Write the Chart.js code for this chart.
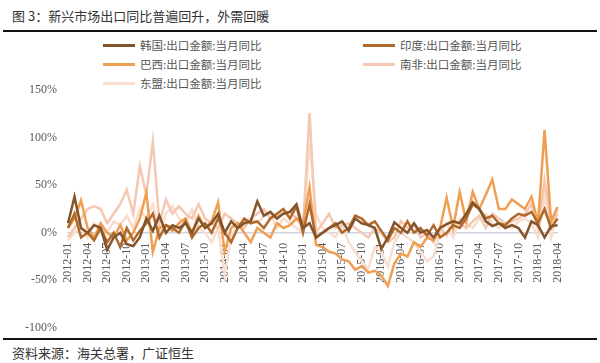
<!DOCTYPE html>
<html>
<head>
<meta charset="utf-8">
<script src="https://cdn.jsdelivr.net/npm/chart.js@4.4.1/dist/chart.umd.min.js"></script>
<style>
  body { margin: 0; width: 600px; height: 363px; background: #fff; position: relative; overflow: hidden; }
  .title { position: absolute; left: 12px; top: 6px; font: 13px "Noto Sans CJK SC"; color: #333; }
  .rule { position: absolute; left: 3px; width: 594px; background: #111; }
  .lg { position: absolute; font: 11.5px "Noto Sans CJK SC"; color: #555; white-space: nowrap; }
  .lg i { display: inline-block; width: 32px; height: 3px; vertical-align: middle; margin-right: 5px; position: relative; top: -1px; }
  .src { position: absolute; left: 12px; top: 343px; font: 13px "Noto Sans CJK SC"; color: #333; }
  #box { position: absolute; left: 22px; top: 80px; width: 552px; height: 258px; }
</style>
</head>
<body>
<div class="title">图 3：新兴市场出口同比普遍回升，外需回暖</div>
<div class="rule" style="top:30px;height:2px"></div>
<div id="legend"></div>
<div id="box"><canvas id="chart"></canvas></div>
<div class="rule" style="top:338px;height:2px"></div>
<div class="src">资料来源：海关总署，广证恒生</div>
<script>
var years = ["2012", "2013", "2014", "2015", "2016", "2017", "2018"];
var monthNames = ["01", "02", "03", "04", "05", "06", "07", "08", "09", "10", "11", "12"];
var months = [];
for (var y = 0; y < years.length; y++) {
    for (var m = 0; m < 12; m++) {
        if (years[y] === "2018" && m > 3) break;
        months.push(years[y] + "-" + monthNames[m]);
    }
}

var seriesNames = ["韩国:出口金额:当月同比", "印度:出口金额:当月同比", "巴西:出口金额:当月同比", "南非:出口金额:当月同比", "东盟:出口金额:当月同比"];
var seriesColors = ["#84542a", "#b0682b", "#ef9e52", "#f4c8b2", "#f9ddce"];

var korea = [10, 38, 5, 0, 8, 5, -18, -5, 0, -12, -14, -5,
    15, 2, 18, 0, 8, 5, 10, 0, 15, 5, 10, 20,
    0, 12, 5, 10, 12, 33, 18, 22, 15, 20, 22, 30,
    5, 10, -5, 0, 5, 8, 12, 2, 15, 10, 8, 5,
    -17, -5, 11, 5, 0, 10, 0, 3, -5, 5, 9, 12,
    10, 20, 32, 25, 12, 7, 10, 5, 8, 5, -5, 12,
    8, -5, 7, 8];
var india = [5, 20, -5, 0, -8, 5, -10, 0, -15, 5, -8, 2,
    10, 20, -5, 8, 5, 0, 12, -5, 5, 10, 0, 15,
    0, -10, 5, 15, 10, 12, 5, 15, 20, 25, 15, 28,
    0, 30, -5, 0, 5, 10, 0, 5, 18, 15, 8, 12,
    2, -8, 5, 0, 12, 0, 5, -3, 8, -5, 0, 8,
    5, 15, 30, 25, 15, 18, 10, 8, 15, 20, 18, 22,
    10, 25, 5, 15];
var brazil = [5, 15, 34, 5, -5, 10, 0, -5, 8, -8, 0, 15,
    42, -20, 5, 8, 2, 10, 15, 0, 18, 5, 12, 32,
    -20, 5, 10, 0, -10, 5, 0, -5, 10, 5, 8, 15,
    10, 48, -13, -15, -20, -22, -28, -30, -39, -35, -42, -40,
    -45, -56, -32, -22, -25, -10, -15, -5, -8, 5, 37, 5,
    43, 12, 43, 25, 40, 56, 25, 25, 35, 30, 25, 38,
    10, 108, 12, 27];
var southAfrica = [-5, 5, 15, 25, 28, 25, 10, 20, 30, 45, 20, 70,
    40, 96, 10, 35, 20, 28, 20, 15, 30, 15, 10, 5,
    20, 15, 10, 5, 15, 20, 25, 15, 18, 20, 22, 15,
    5, 126, 0, 10, 20, 5, 8, 10, 5, 0, -5, 5,
    0, -10, -5, 12, 5, 8, -5, 0, -10, 5, -3, 12,
    10, 5, 12, 18, 5, 20, 15, 10, 12, 15, 20, 30,
    5, 55, 10, 20];
var asean = [-8, 0, 5, -5, 10, 5, 0, 12, 8, 18, 5, 25,
    15, 30, 0, 20, 28, 15, 10, 25, 5, 0, -10, 5,
    -44, -5, 10, 12, 15, 10, 18, 20, 5, 15, 10, 5,
    0, 95, 20, 5, 0, -5, 8, -10, -20, -30, -38, -15,
    -20, -35, -10, 0, -5, -10, -20, -30, -25, 0, 10, -5,
    15, 10, 5, 15, 20, 10, 5, 10, 5, 12, 15, 10,
    -5, 40, -5, 25];
var yTicks = [-100, -50, 0, 50, 100, 150];

var allSeries = [korea, india, brazil, southAfrica, asean];

// legend, two columns like the original
var legendPos = [[103, 46], [363, 46], [103, 65], [363, 65], [103, 84]];
var lgHtml = "";
for (var i = 0; i < seriesNames.length; i++) {
    lgHtml += '<div class="lg" style="left:' + legendPos[i][0] + 'px;top:' + (legendPos[i][1] - 9) + 'px">' +
        '<i style="background:' + seriesColors[i] + '"></i>' + seriesNames[i] + '</div>';
}
document.getElementById("legend").innerHTML = lgHtml;

var datasets = [];
for (var i = 0; i < allSeries.length; i++) {
    datasets.push({
        label: seriesNames[i],
        data: allSeries[i],
        borderColor: seriesColors[i],
        backgroundColor: seriesColors[i],
        borderWidth: 2.5,
        pointRadius: 0,
        tension: 0,
        fill: false
    });
}

var tickFont = { family: "'Liberation Serif', 'Times New Roman', serif", size: 12 };

new Chart(document.getElementById("chart"), {
    type: 'line',
    data: { labels: months, datasets: datasets },
    options: {
        responsive: true,
        maintainAspectRatio: false,
        animation: false,
        layout: { padding: { right: 4 } },
        plugins: { legend: { display: false }, tooltip: { enabled: false } },
        scales: {
            x: {
                position: { y: 0 },
                offset: false,
                grid: { display: false },
                border: { display: true, color: '#cdd6e0', width: 1.5 },
                ticks: {
                    autoSkip: false,
                    minRotation: 90,
                    maxRotation: 90,
                    padding: 2,
                    color: '#595959',
                    font: tickFont,
                    callback: function (v, idx) { return idx % 3 === 0 ? months[idx] : ''; }
                }
            },
            y: {
                min: yTicks[0],
                max: yTicks[yTicks.length - 1],
                grid: { display: false },
                border: { display: false },
                afterBuildTicks: function (axis) { axis.ticks = yTicks.map(function (v) { return { value: v }; }); },
                ticks: {
                    color: '#595959',
                    font: tickFont,
                    callback: function (v) { return v + '%'; }
                }
            }
        }
    }
});
</script>
</body>
</html>
